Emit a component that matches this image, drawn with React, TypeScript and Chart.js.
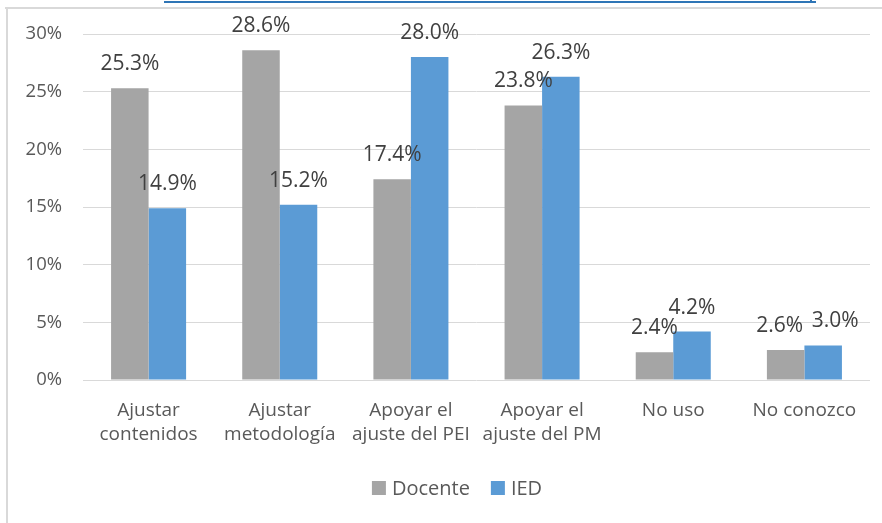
import React, { useEffect, useRef } from "react";
import { Chart, registerables } from "chart.js";

Chart.register(...registerables);

// Categories (multi-line labels) and the two series, in percent
const categories: string[][] = [
  ["Ajustar", "contenidos"],
  ["Ajustar", "metodología"],
  ["Apoyar el", "ajuste del PEI"],
  ["Apoyar el", "ajuste del PM"],
  ["No uso"],
  ["No conozco"],
];
const docente = [25.3, 28.6, 17.4, 23.8, 2.4, 2.6];
const ied = [14.9, 15.2, 28.0, 26.3, 4.2, 3.0];
const seriesNames = ["Docente", "IED"];
const yMax = 30;
const yStep = 5;

const GRAY = "#A5A5A5";
const BLUE = "#5B9BD5";
const FONT = "'Open Sans', sans-serif";

// Sideways nudge (px) for value labels that would otherwise collide: "dataset:index"
const labelNudge: Record<string, number> = { "0:5": -6, "1:5": 12 };

// Writes each bar's value above it
const valueLabels = {
  id: "valueLabels",
  afterDatasetsDraw(chart: Chart) {
    const { ctx } = chart;
    ctx.save();
    ctx.font = `21px ${FONT}`;
    ctx.fillStyle = "#404040";
    ctx.textAlign = "center";
    ctx.textBaseline = "middle";
    chart.data.datasets.forEach((ds, i) => {
      const meta = chart.getDatasetMeta(i);
      meta.data.forEach((el: any, j: number) => {
        const v = ds.data[j] as number;
        const dx = labelNudge[`${i}:${j}`] || 0;
        ctx.fillText(v.toFixed(1) + "%", el.x + dx, el.y - 24);
      });
    });
    ctx.restore();
  },
};

// Legend row under the axis: square swatch, then the series name
const bottomLegend = {
  id: "bottomLegend",
  afterDraw(chart: Chart) {
    const { ctx } = chart;
    const box = 14;
    const gap = 6;
    const spacing = 21;
    const cx = 457;
    const cy = 488;
    ctx.save();
    ctx.font = `20px ${FONT}`;
    ctx.textBaseline = "middle";
    ctx.textAlign = "left";
    const items = chart.data.datasets.map((ds) => ({
      text: ds.label as string,
      color: ds.backgroundColor as string,
      w: ctx.measureText(ds.label as string).width,
    }));
    const total =
      items.reduce((a, it) => a + box + gap + it.w, 0) + spacing * (items.length - 1);
    let x = cx - total / 2;
    items.forEach((it) => {
      ctx.fillStyle = it.color;
      ctx.fillRect(x, cy - box / 2, box, box);
      ctx.fillStyle = "#595959";
      ctx.fillText(it.text, x + box + gap, cy + 1);
      x += box + gap + it.w + spacing;
    });
    ctx.restore();
  },
};

export default function App() {
  const ref = useRef<HTMLCanvasElement | null>(null);

  useEffect(() => {
    if (!ref.current) return;
    const chart = new Chart(ref.current, {
      type: "bar",
      data: {
        labels: categories,
        datasets: [
          { label: seriesNames[0], data: docente, backgroundColor: GRAY },
          { label: seriesNames[1], data: ied, backgroundColor: BLUE },
        ],
      },
      options: {
        animation: false,
        responsive: false,
        devicePixelRatio: 1,
        layout: { padding: { left: 0, right: 12, top: 34, bottom: 63 } },
        datasets: {
          bar: { categoryPercentage: 0.572, barPercentage: 1.0 },
        },
        scales: {
          x: {
            grid: { display: false, drawTicks: false },
            border: { display: false },
            ticks: {
              padding: 19,
              color: "#595959",
              font: { family: FONT, size: 19, lineHeight: 24 / 19 },
            },
            afterFit: (s: any) => {
              s.height = 80;
            },
          },
          y: {
            min: 0,
            max: yMax,
            grid: { color: "#D9D9D9", lineWidth: 1, drawTicks: false },
            border: { display: false },
            ticks: {
              stepSize: yStep,
              padding: 21,
              color: "#595959",
              font: { family: FONT, size: 18.5 },
              callback: (v: any) => v + "%",
            },
            afterFit: (s: any) => {
              s.width = 83;
            },
          },
        },
        plugins: {
          legend: { display: false },
          tooltip: { enabled: false },
        },
      },
      plugins: [valueLabels, bottomLegend],
    });
    return () => chart.destroy();
  }, []);

  return (
    <div
      style={{
        position: "fixed",
        left: 0,
        top: 0,
        width: 882,
        height: 523,
        background: "#fff",
        overflow: "hidden",
      }}
    >
      <canvas ref={ref} width={882} height={523} style={{ position: "absolute", left: 0, top: 0 }} />
      {/* frame around the chart */}
      <div style={{ position: "absolute", left: 5, top: 7, width: 877, height: 2, background: "#D9D9D9" }} />
      <div style={{ position: "absolute", left: 6, top: 7, width: 2, height: 516, background: "#D9D9D9" }} />
      {/* link underline above the frame */}
      <div style={{ position: "absolute", left: 164, top: 1, width: 652, height: 2, background: "#2E75B6" }} />
      <div style={{ position: "absolute", left: 810, top: 0, width: 2, height: 3, background: "#2E75B6" }} />
    </div>
  );
}
